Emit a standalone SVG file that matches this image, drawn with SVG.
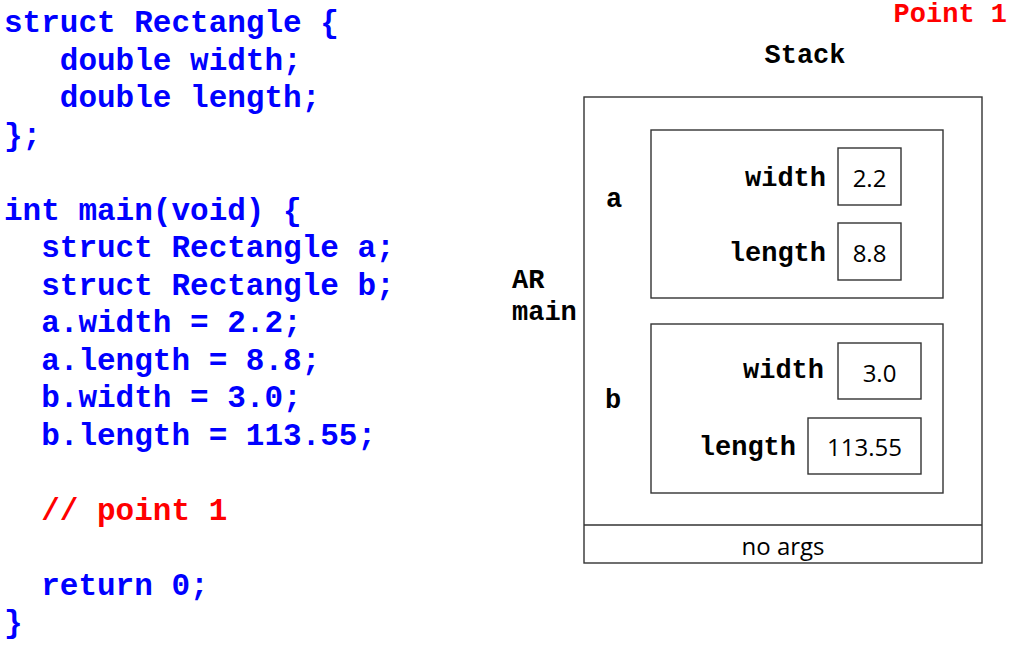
<svg xmlns="http://www.w3.org/2000/svg" width="1013" height="648" viewBox="0 0 1013 648">
<style>
.code{font-family:"Liberation Mono","Courier New",monospace;font-weight:bold;font-size:31px;fill:#0000ff}
.lbl{font-family:"Liberation Mono","Courier New",monospace;font-weight:bold;font-size:27px;fill:#000}
text.red{fill:#ff0000}
.val{font-family:"Open Sans","Noto Sans",sans-serif;font-size:24px;fill:#000;text-anchor:middle}
.box{fill:none;stroke:#333;stroke-width:1.4}
</style>
<rect width="1013" height="648" fill="#fff"/>
<g id="code">
<text class="code" x="4" y="32">struct Rectangle {</text>
<text class="code" x="4" y="70" xml:space="preserve">   double width;</text>
<text class="code" x="4" y="107" xml:space="preserve">   double length;</text>
<text class="code" x="4" y="145">};</text>
<text class="code" x="4" y="220">int main(void) {</text>
<text class="code" x="4" y="257" xml:space="preserve">  struct Rectangle a;</text>
<text class="code" x="4" y="295" xml:space="preserve">  struct Rectangle b;</text>
<text class="code" x="4" y="332" xml:space="preserve">  a.width = 2.2;</text>
<text class="code" x="4" y="370" xml:space="preserve">  a.length = 8.8;</text>
<text class="code" x="4" y="407" xml:space="preserve">  b.width = 3.0;</text>
<text class="code" x="4" y="445" xml:space="preserve">  b.length = 113.55;</text>
<text class="code red" x="4" y="520" xml:space="preserve">  // point 1</text>
<text class="code" x="4" y="595" xml:space="preserve">  return 0;</text>
<text class="code" x="4" y="632">}</text>
</g>
<g id="titles">
<text class="lbl red" x="1007" y="22" text-anchor="end">Point 1</text>
<text class="lbl" x="805" y="63" text-anchor="middle">Stack</text>
<text class="lbl" x="512" y="288">AR</text>
<text class="lbl" x="512" y="320">main</text>
</g>
<g id="stack">
<rect class="box" x="584" y="97" width="398" height="466"/>
<line class="box" x1="584" y1="525" x2="982" y2="525"/>
<text class="val" x="783" y="555">no args</text>
</g>
<g id="struct-a">
<text class="lbl" x="614" y="207" text-anchor="middle">a</text>
<rect class="box" x="651" y="130" width="292" height="168"/>
<text class="lbl" x="826" y="186" text-anchor="end">width</text>
<rect class="box" x="838" y="148" width="63" height="57"/>
<text class="val" x="869.5" y="187">2.2</text>
<text class="lbl" x="826" y="261" text-anchor="end">length</text>
<rect class="box" x="838" y="223" width="63" height="57"/>
<text class="val" x="869.5" y="262">8.8</text>
</g>
<g id="struct-b">
<text class="lbl" x="613" y="408" text-anchor="middle">b</text>
<rect class="box" x="651" y="324" width="292" height="169"/>
<text class="lbl" x="824" y="378" text-anchor="end">width</text>
<rect class="box" x="838" y="343" width="83" height="56"/>
<text class="val" x="879.5" y="382">3.0</text>
<text class="lbl" x="796" y="455" text-anchor="end">length</text>
<rect class="box" x="808" y="418" width="113" height="56"/>
<text class="val" x="864.5" y="456">113.55</text>
</g>
<g id="connectors"></g>
</svg>
